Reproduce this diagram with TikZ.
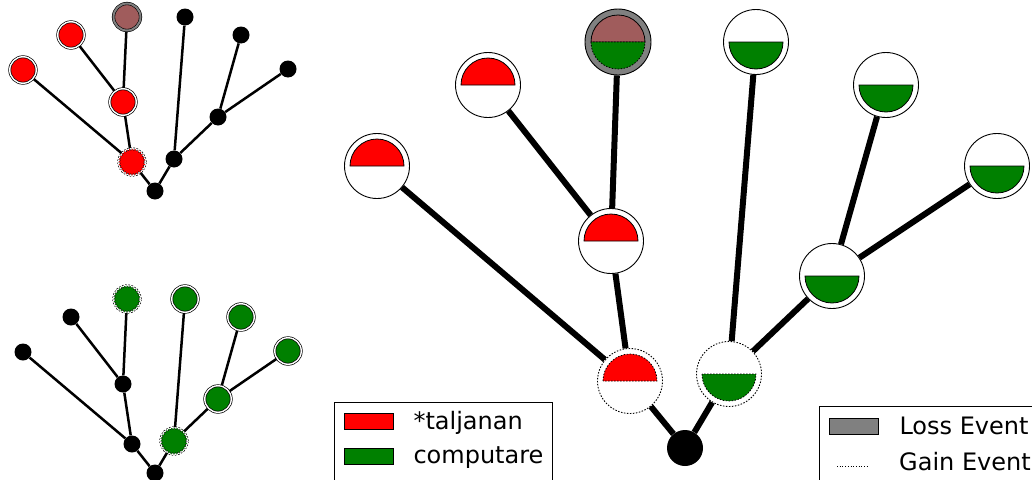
\documentclass[tikz,border=0pt]{standalone}
\usepackage{fontspec}
\setmainfont{DejaVu Sans}
\usepackage{tikz}
\usepackage{xcolor}
\usetikzlibrary{positioning,backgrounds}

\definecolor{taljred}{RGB}{255,0,0}
\definecolor{compgreen}{RGB}{0,128,0}
\definecolor{lossgray}{RGB}{128,128,128}
\definecolor{lossbrown}{RGB}{160,92,92}

\newcommand{\tophalf}[3][solid]{\filldraw[fill=#3,draw=black,line width=0.8pt,#1] ([xshift=-27pt]#2.center) arc[start angle=180,end angle=0,radius=27pt] -- cycle;}
\newcommand{\bothalf}[3][solid]{\filldraw[fill=#3,draw=black,line width=0.8pt,#1] ([xshift=-27pt]#2.center) arc[start angle=180,end angle=360,radius=27pt] -- cycle;}

\begin{document}
\begin{tikzpicture}[x=1pt,y=1pt,
  bignode/.style={circle,draw=black,fill=white,line width=0.9pt,minimum size=65pt,inner sep=0pt},
  bigloss/.style={circle,draw=black,fill=lossgray,line width=0.9pt,minimum size=66pt,inner sep=0pt},
  bigroot/.style={circle,fill=black,minimum size=36pt,inner sep=0pt},
  gainring/.style={dash pattern=on 1.5pt off 1.5pt},
  bigedge/.style={line width=6pt},
  smalldot/.style={circle,fill=black,minimum size=17pt,inner sep=0pt},
  smallcol/.style={circle,draw=black,double=white,double distance=1.4pt,line width=0.7pt,minimum size=26.5pt,inner sep=0pt},
  smallloss/.style={circle,draw=black,double=lossgray,double distance=2pt,line width=0.6pt,fill=lossbrown,minimum size=27pt,inner sep=0pt},
  smalledge/.style={line width=2.5pt},
  swatch/.style={rectangle,draw=black,line width=0.6pt,minimum width=49pt,minimum height=16pt,inner sep=0pt},
  legtext/.style={inner sep=0pt,font=\fontsize{24}{28}\selectfont,anchor=base west}]
\useasboundingbox (0,0) rectangle (1032,-479);
\clip (0,0) rectangle (1032,-479);

% small tree, *taljanan
\node[smalldot] (tR) at (155,-191) {};
\node[smallcol,gainring,fill=taljred] (tA) at (132,-162) {};
\node[smalldot] (tB) at (174,-159) {};
\node[smallcol,fill=taljred] (tL1) at (23,-70) {};
\node[smallcol,fill=taljred] (tL2) at (71,-35) {};
\node[smallcol,fill=taljred] (tM) at (123,-102) {};
\node[smallloss] (tT) at (127,-17) {};
\node[smalldot] (tG1) at (185,-17) {};
\node[smalldot] (tG4) at (218,-117) {};
\node[smalldot] (tG2) at (241,-35) {};
\node[smalldot] (tG3) at (288,-69) {};

% small tree, computare
\node[smalldot] (bR) at (155,-473) {};
\node[smalldot] (bA) at (132,-444) {};
\node[smallcol,gainring,fill=compgreen] (bB) at (174,-441) {};
\node[smalldot] (bL1) at (23,-352) {};
\node[smalldot] (bL2) at (71,-317) {};
\node[smalldot] (bM) at (123,-384) {};
\node[smallcol,gainring,fill=compgreen] (bT) at (127,-299) {};
\node[smallcol,fill=compgreen] (bG1) at (185,-299) {};
\node[smallcol,fill=compgreen] (bG4) at (218,-399) {};
\node[smallcol,fill=compgreen] (bG2) at (241,-317) {};
\node[smallcol,fill=compgreen] (bG3) at (288,-351) {};

% big tree
\node[bigroot] (R) at (685,-448) {};
\node[bignode,gainring] (A) at (630,-381) {};
\node[bignode,gainring] (B) at (729,-374) {};
\node[bignode] (L1) at (377,-166) {};
\node[bignode] (L2) at (488,-85) {};
\node[bignode] (M) at (611,-241) {};
\node[bigloss] (T) at (618,-42) {};
\node[bignode] (G1) at (756,-42) {};
\node[bignode] (G2) at (886,-85) {};
\node[bignode] (G3) at (997,-166) {};
\node[bignode] (G4) at (832,-276) {};

\tophalf[gainring]{A}{taljred}
\bothalf[gainring]{B}{compgreen}
\tophalf{L1}{taljred}
\tophalf{L2}{taljred}
\tophalf{M}{taljred}
\tophalf{T}{lossbrown}
\bothalf[gainring]{T}{compgreen}
\bothalf{G1}{compgreen}
\bothalf{G2}{compgreen}
\bothalf{G3}{compgreen}
\bothalf{G4}{compgreen}

\begin{scope}[on background layer]
\draw[smalledge] (tR) -- (tA);
\draw[smalledge] (tR) -- (tB);
\draw[smalledge] (tA) -- (tL1);
\draw[smalledge] (tA) -- (tM);
\draw[smalledge] (tM) -- (tL2);
\draw[smalledge] (tM) -- (tT);
\draw[smalledge] (tB) -- (tG1);
\draw[smalledge] (tB) -- (tG4);
\draw[smalledge] (tG4) -- (tG2);
\draw[smalledge] (tG4) -- (tG3);
\draw[smalledge] (bR) -- (bA);
\draw[smalledge] (bR) -- (bB);
\draw[smalledge] (bA) -- (bL1);
\draw[smalledge] (bA) -- (bM);
\draw[smalledge] (bM) -- (bL2);
\draw[smalledge] (bM) -- (bT);
\draw[smalledge] (bB) -- (bG1);
\draw[smalledge] (bB) -- (bG4);
\draw[smalledge] (bG4) -- (bG2);
\draw[smalledge] (bG4) -- (bG3);
\draw[bigedge] (R) -- (A);
\draw[bigedge] (R) -- (B);
\draw[bigedge] (A) -- (L1);
\draw[bigedge] (A) -- (M);
\draw[bigedge] (M) -- (L2);
\draw[bigedge] (M) -- (T);
\draw[bigedge] (B) -- (G1);
\draw[bigedge] (B) -- (G4);
\draw[bigedge] (G4) -- (G2);
\draw[bigedge] (G4) -- (G3);
\end{scope}

% legends
\draw[line width=0.8pt] (334,-402) rectangle (552,-495);
\node[swatch,fill=taljred] (swred) at (368.5,-421) {};
\node[swatch,fill=compgreen] (swgreen) at (368.5,-456.5) {};
\node[legtext] (txred) at ([xshift=20pt]swred.south east) {*taljanan};
\node[legtext] (txgreen) at ([xshift=20pt,yshift=1pt]swgreen.south east) {computare};

\draw[line width=0.8pt] (819,-406) rectangle (1045,-495);
\node[swatch,fill=lossgray] (swloss) at (853.5,-426) {};
\node[legtext] (txloss) at ([xshift=21pt]swloss.south east) {Loss Event};
\coordinate (gainl) at (837,-466);
\draw[dotted,line width=0.7pt] (gainl) -- ++(30,0);
\node[legtext] (txgain) at (899,-470) {Gain Event};
\end{tikzpicture}
\end{document}
